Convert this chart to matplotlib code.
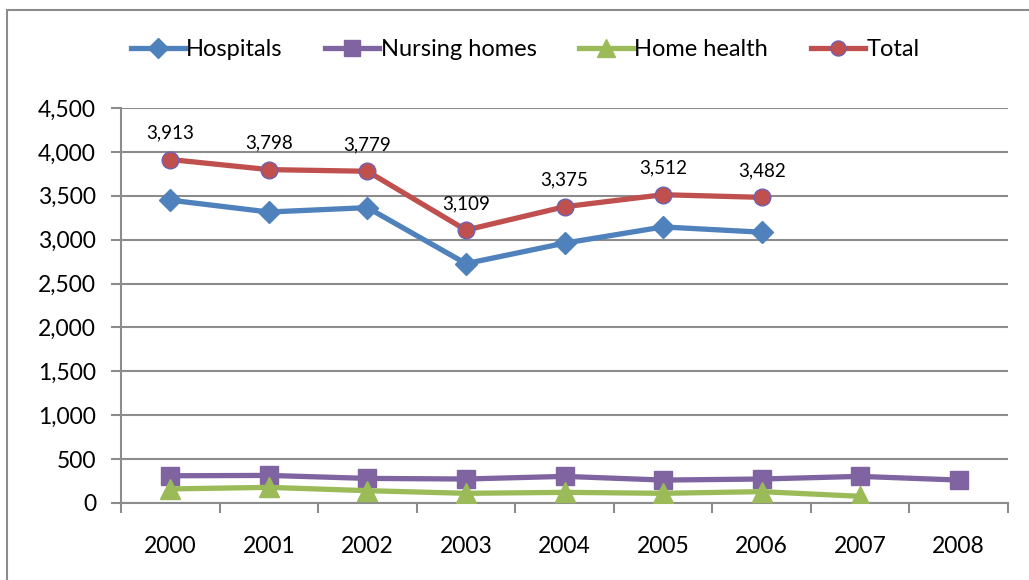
import matplotlib
matplotlib.use("Agg")
import matplotlib.pyplot as plt
from matplotlib.patches import Rectangle

plt.rcParams['font.family'] = ['Lato', 'DejaVu Sans']

years = ['2000', '2001', '2002', '2003', '2004', '2005', '2006', '2007', '2008']
hospitals = [3450, 3315, 3365, 2727, 2960, 3145, 3085]
nursing_homes = [310, 314, 280, 273, 303, 261, 273, 303, 261]
home_health = [160, 178, 140, 110, 121, 110, 129, 76]
total = [3913, 3798, 3779, 3109, 3375, 3512, 3482]

fig = plt.figure(figsize=(10.29, 5.8), dpi=100)
ax = fig.add_axes([0.1176, 0.1328, 0.862, 0.681])

# chart border (Excel style)
fig.patches.append(Rectangle((7 / 1029, -0.1), 1.2, 1 - 10 / 580 + 0.1,
                             transform=fig.transFigure, fill=False,
                             edgecolor='#8c8c8c', linewidth=1.5))

x = list(range(len(years)))
ax.plot(x[:len(hospitals)], hospitals, color='#4F81BD', lw=3.8,
        marker='D', ms=11, label='Hospitals', zorder=3)
ax.plot(x[:len(nursing_homes)], nursing_homes, color='#8064A2', lw=3.8,
        marker='s', ms=13, label='Nursing homes', zorder=3)
ax.plot(x[:len(home_health)], home_health, color='#9BBB59', lw=3.8,
        marker='^', ms=14, label='Home health', zorder=4)
ax.plot(x[:len(total)], total, color='#C0504D', lw=3.8,
        marker='o', ms=12, mec='#7060b0', mew=1, label='Total', zorder=3)

for xi, v in zip(x, total):
    ax.annotate(f'{v:,}', (xi, v), xytext=(0, 13), textcoords='offset points',
                ha='center', va='bottom', fontsize=13.5)

ax.set_xlim(-0.5, len(years) - 0.5)
ax.set_ylim(0, 4500)
ax.set_yticks(range(0, 4501, 500))
ax.set_yticklabels([f'{v:,}' for v in range(0, 4501, 500)], fontsize=16.5)
ax.set_xticks(x)
ax.set_xticklabels(years, fontsize=16.5)
ax.set_xticks([i - 0.5 for i in range(len(years) + 1)], minor=True)
ax.tick_params(axis='x', which='major', length=0, pad=24)
ax.tick_params(axis='x', which='minor', length=7, color='#8c8c8c', width=1.5)
ax.tick_params(axis='y', length=7, color='#8c8c8c', width=1.5, pad=11)

ax.grid(axis='y', color='#8c8c8c', lw=1.5)
ax.set_axisbelow(True)
for s in ['top', 'right']:
    ax.spines[s].set_visible(False)
for s in ['left', 'bottom']:
    ax.spines[s].set_color('#8c8c8c')
    ax.spines[s].set_linewidth(1.5)

ax.legend(loc='center', bbox_to_anchor=(525 / 1029, 1 - 50 / 580), bbox_transform=fig.transFigure,
          ncol=4, frameon=False, fontsize=17, handlelength=2.3,
          handletextpad=0.05, columnspacing=1.8, markerscale=0.9)

fig.savefig('out.png', dpi=100)
